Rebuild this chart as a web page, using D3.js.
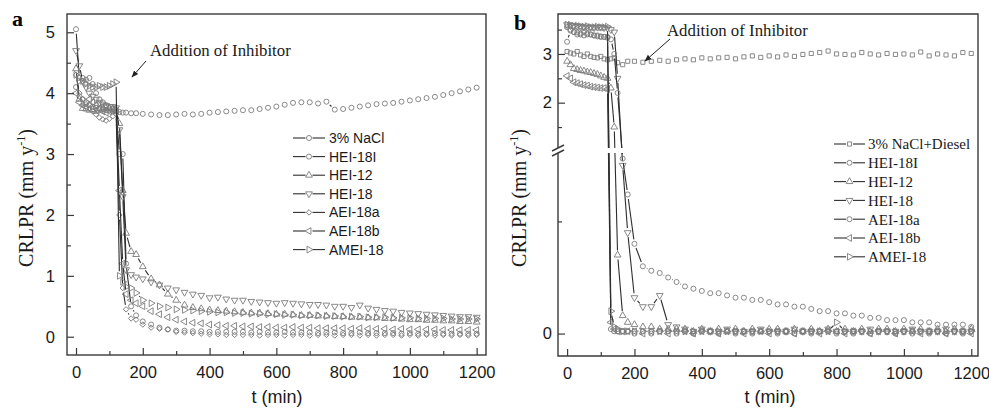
<!DOCTYPE html>
<html>
<head>
<meta charset="utf-8">
<script src="https://cdn.jsdelivr.net/npm/d3@7"></script>
<style>
body { margin:0; background:#fff; }
svg { display:block; }
</style>
</head>
<body>
<div id="chart"></div>
<script>

// sampling times (min), shared by all curves
var times = [0,10,20,30,40,50,60,70,80,90,100,110,120,130,140,150,
    165,180,200,
    225,250,275,300,325,350,375,400,425,450,475,500,
    525,550,575,600,625,650,675,700,725,750,775,800,
    825,850,875,900,925,950,975,1000,1025,1050,1075,1100,
    1125,1150,1175,1200];

var xTicks = [0,100,200,300,400,500,600,700,800,900,1000,1100,1200];
var yTicksA = [0,0.5,1,1.5,2,2.5,3,3.5,4,4.5,5];
var yTicksBUpper = [1.5,2,2.5,3,3.5];
var yTicksBLower = [0,0.5];

var namesA = ["3% NaCl","HEI-18I","HEI-12","HEI-18","AEI-18a","AEI-18b","AMEI-18"];
var namesB = ["3% NaCl+Diesel","HEI-18I","HEI-12","HEI-18","AEI-18a","AEI-18b","AMEI-18"];

// panel a
var naclA = [4.10,3.95,3.90,3.85,3.80,3.78,3.76,3.75,3.74,3.72,3.72,3.70,3.70,3.69,3.68,3.68,
    3.67,3.67,3.66,
    3.65,3.64,3.64,3.65,3.66,3.65,3.66,3.68,3.69,3.70,3.71,3.72,
    3.72,3.74,3.76,3.78,3.81,3.84,3.85,3.85,3.83,3.86,3.73,3.74,
    3.76,3.78,3.80,3.82,3.83,3.84,3.86,3.88,3.90,3.92,3.94,3.97,
    4.00,4.03,4.06,4.09];
var hei18iA = [5.05,4.25,4.25,4.22,4.25,4.15,4.00,3.90,3.85,3.80,3.75,3.75,3.72,3.00,3.00,1.20,
    0.50,0.35,0.25,
    0.20,0.15,0.12,0.10,0.10,0.09,0.09,0.08,0.08,0.08,0.08,0.08,
    0.07,0.08,0.07,0.07,0.08,0.07,0.07,0.07,0.06,0.07,0.07,0.06,
    0.06,0.07,0.06,0.06,0.06,0.06,0.05,0.06,0.05,0.05,0.06,0.05,
    0.05,0.05,0.05,0.05];
var hei12A = [4.40,3.90,3.75,3.74,3.72,3.73,3.70,3.72,3.75,3.76,3.75,3.74,3.72,3.50,2.40,1.70,
    1.40,1.35,1.15,
    0.95,0.85,0.70,0.60,0.52,0.48,0.46,0.44,0.43,0.42,0.41,0.40,
    0.39,0.39,0.38,0.37,0.37,0.36,0.35,0.35,0.34,0.34,0.33,0.33,
    0.32,0.32,0.31,0.31,0.30,0.30,0.29,0.28,0.28,0.27,0.27,0.26,
    0.26,0.25,0.25,0.24];
var hei18A = [4.70,4.45,4.20,4.10,4.00,3.95,3.90,3.85,3.82,3.80,3.78,3.78,3.76,3.40,2.30,1.10,
    1.02,0.98,0.95,
    0.90,0.85,0.80,0.77,0.73,0.70,0.68,0.64,0.65,0.62,0.60,0.60,
    0.58,0.57,0.56,0.55,0.56,0.55,0.54,0.53,0.53,0.52,0.50,0.50,
    0.48,0.52,0.47,0.45,0.43,0.42,0.40,0.39,0.38,0.37,0.36,0.35,
    0.34,0.33,0.33,0.32];
var aei18aA = [4.30,4.00,3.90,3.82,3.75,3.70,3.65,3.60,3.57,3.55,3.58,3.62,3.66,2.00,0.80,0.45,
    0.30,0.28,0.20,
    0.15,0.13,0.12,0.08,0.07,0.06,0.05,0.04,0.04,0.03,0.03,0.03,
    0.03,0.02,0.03,0.03,0.02,0.03,0.03,0.02,0.03,0.03,0.02,0.03,
    0.03,0.02,0.03,0.02,0.03,0.03,0.02,0.03,0.02,0.03,0.02,0.03,
    0.02,0.03,0.02,0.03];
var aei18bA = [4.00,3.85,3.80,3.78,3.90,3.85,3.80,3.75,3.70,3.68,3.70,3.72,3.70,2.40,1.20,0.70,
    0.60,0.55,0.50,
    0.42,0.37,0.32,0.28,0.25,0.23,0.22,0.20,0.19,0.18,0.18,0.17,
    0.17,0.16,0.16,0.15,0.15,0.16,0.15,0.15,0.14,0.14,0.14,0.14,
    0.13,0.14,0.13,0.13,0.13,0.12,0.13,0.12,0.12,0.12,0.12,0.11,
    0.11,0.11,0.11,0.11];
var ameiA = [4.30,4.20,4.20,4.15,4.12,4.10,4.10,4.12,4.10,4.10,4.12,4.15,4.18,1.00,0.90,0.82,
    0.80,0.72,0.60,
    0.55,0.50,0.48,0.45,0.44,0.43,0.42,0.41,0.40,0.40,0.39,0.39,
    0.38,0.38,0.37,0.37,0.36,0.36,0.35,0.35,0.35,0.34,0.34,0.33,
    0.33,0.33,0.32,0.32,0.32,0.31,0.31,0.31,0.30,0.30,0.30,0.30,
    0.29,0.29,0.29,0.29];

// panel b
var naclB = [3.05,3.02,3.00,3.05,2.98,2.95,3.00,2.95,2.93,2.92,2.95,2.90,2.88,2.90,2.92,2.82,
    2.78,2.85,2.85,
    2.83,2.85,2.87,2.85,2.88,2.90,2.88,2.92,2.90,2.92,2.93,2.90,
    2.94,2.96,2.93,2.96,2.94,2.98,2.95,2.99,3.01,3.03,3.06,3.00,
    2.99,2.98,3.03,3.00,2.98,3.01,2.99,3.00,2.98,3.04,2.96,3.00,
    2.98,2.96,3.03,3.01];
var hei18iB = [3.25,3.48,3.45,3.40,3.42,3.38,3.40,3.40,3.38,3.36,3.35,3.35,3.33,0.02,0.01,0.01,
    0.01,0.01,0.00,
    0.01,0.00,0.01,0.01,0.00,0.01,0.00,0.01,0.01,0.00,0.01,0.00,
    0.01,0.00,0.01,0.01,0.00,0.01,0.00,0.01,0.00,0.01,0.01,0.00,
    0.01,0.00,0.01,0.00,0.01,0.01,0.00,0.01,0.00,0.01,0.00,0.01,
    0.00,0.01,0.00,0.01];
var hei12B = [2.85,2.78,2.70,2.68,2.66,2.65,2.63,2.62,2.60,2.58,2.55,2.52,2.50,2.30,1.50,0.35,
    0.08,0.05,0.04,
    0.03,0.03,0.02,0.02,0.02,0.02,0.01,0.02,0.01,0.02,0.01,0.02,
    0.01,0.02,0.01,0.02,0.02,0.01,0.02,0.01,0.02,0.01,0.02,0.01,
    0.02,0.01,0.02,0.01,0.02,0.02,0.01,0.02,0.01,0.02,0.01,0.02,
    0.01,0.02,0.01,0.02];
var hei18B = [3.60,3.58,3.58,3.57,3.56,3.55,3.55,3.55,3.54,3.55,3.55,3.54,3.53,3.50,3.45,2.50,
    0.75,0.45,0.16,
    0.12,0.12,0.17,0.04,0.03,0.02,0.01,0.02,0.01,0.01,0.02,0.01,
    0.01,0.01,0.02,0.01,0.01,0.01,0.02,0.01,0.01,0.01,0.02,0.01,
    0.01,0.01,0.01,0.02,0.01,0.01,0.01,0.01,0.02,0.01,0.01,0.01,
    0.02,0.01,0.01,0.01];
var aei18aB = [3.55,3.50,3.45,3.44,3.40,3.45,3.42,3.40,3.38,3.38,3.36,3.35,3.35,3.30,3.00,2.20,
    0.78,0.62,0.40,
    0.30,0.28,0.27,0.25,0.23,0.21,0.20,0.19,0.18,0.18,0.17,0.16,
    0.16,0.15,0.15,0.14,0.13,0.13,0.12,0.12,0.11,0.10,0.10,0.09,
    0.09,0.08,0.08,0.07,0.07,0.06,0.06,0.06,0.05,0.05,0.05,0.04,
    0.04,0.04,0.04,0.03];
var aei18bB = [2.55,2.50,2.42,2.40,2.38,2.36,2.35,2.33,2.32,2.31,2.30,2.30,2.28,0.05,0.02,0.01,
    0.01,0.01,0.01,
    0.00,0.01,0.01,0.00,0.01,0.01,0.00,0.01,0.01,0.00,0.01,0.01,
    0.00,0.01,0.01,0.00,0.01,0.01,0.00,0.01,0.01,0.00,0.01,0.01,
    0.00,0.01,0.01,0.00,0.01,0.01,0.00,0.01,0.01,0.00,0.01,0.01,
    0.00,0.01,0.01,0.00];
var ameiB = [3.60,3.60,3.58,3.58,3.57,3.56,3.57,3.55,3.55,3.56,3.55,3.55,3.56,0.10,0.03,0.02,
    0.01,0.01,0.01,
    0.01,0.01,0.01,0.01,0.01,0.01,0.01,0.01,0.01,0.01,0.01,0.01,
    0.01,0.01,0.01,0.01,0.01,0.01,0.01,0.01,0.01,0.01,0.01,0.05,
    0.01,0.01,0.01,0.01,0.01,0.01,0.01,0.01,0.01,0.01,0.01,0.01,
    0.01,0.01,0.01,0.01];

var seriesA = [naclA,hei18iA,hei12A,hei18A,aei18aA,aei18bA,ameiA];
var seriesB = [naclB,hei18iB,hei12B,hei18B,aei18aB,aei18bB,ameiB];
var markersA = ["circle","circle","up","down","diamond","left","right"];
var markersB = ["square","circle","up","down","circle","left","right"];


var sans = "'Liberation Sans', Arial, sans-serif";
var serif = "'Liberation Serif', 'Times New Roman', serif";
var frameColor = "#3a3a3a";

var svg = d3.select("#chart")
    .append("svg")
    .attr("width", 989)
    .attr("height", 409);

svg.append("defs").append("marker")
    .attr("id","arrow")
    .attr("viewBox","0 0 10 10")
    .attr("refX",9).attr("refY",5)
    .attr("markerWidth",7).attr("markerHeight",7)
    .attr("orient","auto")
    .append("path")
    .attr("d","M0,1 L10,5 L0,9 z")
    .attr("fill","#222");

var symbolType = {circle:d3.symbolCircle, square:d3.symbolSquare, diamond:d3.symbolSquare,
    up:d3.symbolTriangle, down:d3.symbolTriangle, left:d3.symbolTriangle, right:d3.symbolTriangle};
var symbolRot = {circle:0, square:0, diamond:45, up:0, down:180, left:-90, right:90};
var symbolSize = {circle:20, square:17, diamond:15, up:20, down:20, left:20, right:20};

function markerPath(kind) {
    return d3.symbol().type(symbolType[kind]).size(symbolSize[kind])();
}


// x / y scales
var xA = d3.scaleLinear().domain([-27,1228]).range([67,486]);
var yA = d3.scaleLinear().domain([-0.3,5.3]).range([355,14]);

var xB = d3.scaleLinear().domain([-27,1220]).range([558,978]);
var yBU = d3.scaleLinear().domain([1.07,3.82]).range([148,14]);
var yBL = d3.scaleLinear().domain([-0.1,0.805]).range([356,153]);
function yB(v) {
    if (v >= 1.07) return yBU(v);
    if (v <= 0.805) return yBL(v);
    return 153 - (v-0.805)/(1.07-0.805)*5;
}


// line pieces are cut back around each symbol, like Origin does
function gappedSegments(pts, gap) {
    var segs = [];
    for (var k = 1; k < pts.length; k++) {
        var a = pts[k-1], b = pts[k];
        var dx = b[0]-a[0], dy = b[1]-a[1];
        var len = Math.sqrt(dx*dx+dy*dy);
        if (len <= 2*gap + 0.5) continue;
        var ux = dx/len, uy = dy/len;
        segs.push([[a[0]+ux*gap, a[1]+uy*gap],[b[0]-ux*gap, b[1]-uy*gap]]);
    }
    return segs;
}

function drawSeries(id, x, y, box, series, markers) {
    svg.append("clipPath").attr("id",id)
        .append("rect")
        .attr("x",box[0]).attr("y",box[1])
        .attr("width",box[2]-box[0]).attr("height",box[3]-box[1]);

    var g = svg.append("g").attr("clip-path","url(#"+id+")");

    series.forEach(function(vals, i){
        var pts = times.map(function(t, j){ return [x(t), y(vals[j])]; });

        g.selectAll(null)
            .data(gappedSegments(pts, 4.5))
            .enter()
            .append("line")
            .attr("x1",function(d){ return d[0][0]; })
            .attr("y1",function(d){ return d[0][1]; })
            .attr("x2",function(d){ return d[1][0]; })
            .attr("y2",function(d){ return d[1][1]; })
            .attr("stroke","#2e2e2e")
            .attr("stroke-width",1.1);

        g.selectAll(null)
            .data(pts)
            .enter()
            .append("path")
            .attr("d", markerPath(markers[i]))
            .attr("transform", function(d){ return "translate("+d[0]+","+d[1]+") rotate("+symbolRot[markers[i]]+")"; })
            .attr("fill","none")
            .attr("stroke","#7c7c7c")
            .attr("stroke-width",0.9);
    });
}

function bottomAxis(x, yPos) {
    var ax = svg.append("g")
        .attr("transform","translate(0,"+yPos+")")
        .call(d3.axisBottom(x)
            .tickValues(xTicks)
            .tickSizeInner(-7)
            .tickSizeOuter(0)
            .tickPadding(11)
            .tickFormat(function(d){ return d % 200 === 0 ? d : ""; }));
    ax.select(".domain").remove();
    ax.selectAll(".tick line")
        .attr("stroke",frameColor)
        .attr("stroke-width",1.2)
        .attr("y2",function(d){ return d % 200 === 0 ? -7 : -4; });
    ax.selectAll("text")
        .attr("font-family",sans)
        .attr("font-size",16.5)
        .attr("fill","#1a1a1a");
}

function leftAxis(y, xPos, ticks, pad, labelOf) {
    var ax = svg.append("g")
        .attr("transform","translate("+xPos+",0)")
        .call(d3.axisLeft(y)
            .tickValues(ticks)
            .tickSizeInner(-7)
            .tickSizeOuter(0)
            .tickPadding(pad)
            .tickFormat(labelOf));
    ax.select(".domain").remove();
    ax.selectAll(".tick line")
        .attr("stroke",frameColor)
        .attr("stroke-width",1.2)
        .attr("x2",function(d){ return d % 1 === 0 ? 7 : 4; });
    ax.selectAll("text")
        .attr("font-family",sans)
        .attr("font-size",16.5)
        .attr("fill","#1a1a1a");
}

function legend(names, markers, x1, x2, tx, y0, step, font, size) {
    var g = svg.append("g");
    names.forEach(function(name, i){
        var yy = y0 + i*step;
        var mid = (x1+x2)/2;
        g.append("line")
            .attr("x1",x1).attr("x2",mid-3.5)
            .attr("y1",yy).attr("y2",yy)
            .attr("stroke","#2e2e2e").attr("stroke-width",1.1);
        g.append("line")
            .attr("x1",mid+3.5).attr("x2",x2)
            .attr("y1",yy).attr("y2",yy)
            .attr("stroke","#2e2e2e").attr("stroke-width",1.1);
        g.append("path")
            .attr("d", markerPath(markers[i]))
            .attr("transform","translate("+mid+","+yy+") rotate("+symbolRot[markers[i]]+")")
            .attr("fill","none")
            .attr("stroke","#7c7c7c")
            .attr("stroke-width",0.9);
        g.append("text")
            .attr("x",tx).attr("y",yy)
            .attr("dy","0.36em")
            .attr("font-family",font)
            .attr("font-size",size)
            .attr("fill","#1a1a1a")
            .text(name);
    });
}

function yLabel(cx, cy) {
    var t = svg.append("text")
        .attr("transform","translate("+cx+","+cy+") rotate(-90)")
        .attr("text-anchor","middle")
        .attr("font-family",serif)
        .attr("font-size",20)
        .attr("fill","#1a1a1a");
    t.append("tspan").text("CRLPR (mm y");
    t.append("tspan").attr("dy",-8).attr("font-size",12).text("-1");
    t.append("tspan").attr("dy",8).text(")");
}

function xLabel(cx) {
    svg.append("text")
        .attr("x",cx).attr("y",403)
        .attr("text-anchor","middle")
        .attr("font-family",sans)
        .attr("font-size",18)
        .attr("fill","#1a1a1a")
        .text("t (min)");
}

function note(x, y, ax1, ay1, ax2, ay2) {
    svg.append("text")
        .attr("x",x).attr("y",y)
        .attr("font-family",serif)
        .attr("font-size",16.8)
        .attr("fill","#1a1a1a")
        .text("Addition of Inhibitor");
    svg.append("line")
        .attr("x1",ax1).attr("y1",ay1)
        .attr("x2",ax2).attr("y2",ay2)
        .attr("stroke","#222").attr("stroke-width",1)
        .attr("marker-end","url(#arrow)");
}


// ---------- panel a ----------
drawSeries("clipA", xA, yA, [67,14,486,355], seriesA, markersA);

svg.append("rect")
    .attr("x",67).attr("y",14)
    .attr("width",486-67).attr("height",355-14)
    .attr("fill","none")
    .attr("stroke",frameColor)
    .attr("stroke-width",1.4);

bottomAxis(xA, 355);
leftAxis(yA, 67, yTicksA, 12, function(d){ return d % 1 === 0 ? d : ""; });
legend(namesA, markersA, 293, 325, 329, 138, 18.6, sans, 14);
yLabel(33, 198);
xLabel(277);
note(150, 56, 146, 61, 132, 77);

svg.append("text")
    .attr("x",12).attr("y",26)
    .attr("font-family",serif)
    .attr("font-weight","bold")
    .attr("font-size",22)
    .text("a");


// ---------- panel b ----------
drawSeries("clipB", xB, yB, [558,14,978,356], seriesB, markersB);

// gap of the broken axis
svg.append("rect")
    .attr("x",559).attr("y",148)
    .attr("width",418).attr("height",5)
    .attr("fill","#fff");

var frameB = svg.append("g")
    .attr("stroke",frameColor)
    .attr("stroke-width",1.4)
    .attr("fill","none");
frameB.append("path").attr("d","M558,148 V14 H978 V356 H558 V153");
frameB.append("line").attr("x1",552).attr("y1",151).attr("x2",564).attr("y2",145);
frameB.append("line").attr("x1",552).attr("y1",156).attr("x2",564).attr("y2",150);

bottomAxis(xB, 356);
leftAxis(yBU, 558, yTicksBUpper, 6, function(d){ return d % 1 === 0 ? d : ""; });
leftAxis(yBL, 558, yTicksBLower, 6, function(d){ return d === 0 ? d : ""; });
legend(namesB, markersB, 834, 865, 868, 144, 18.8, serif, 15);
yLabel(526, 198);
xLabel(770);
note(667, 36, 670, 39, 645, 61);

svg.append("text")
    .attr("x",514).attr("y",30)
    .attr("font-family",serif)
    .attr("font-weight","bold")
    .attr("font-size",22)
    .text("b");

</script>
</body>
</html>
